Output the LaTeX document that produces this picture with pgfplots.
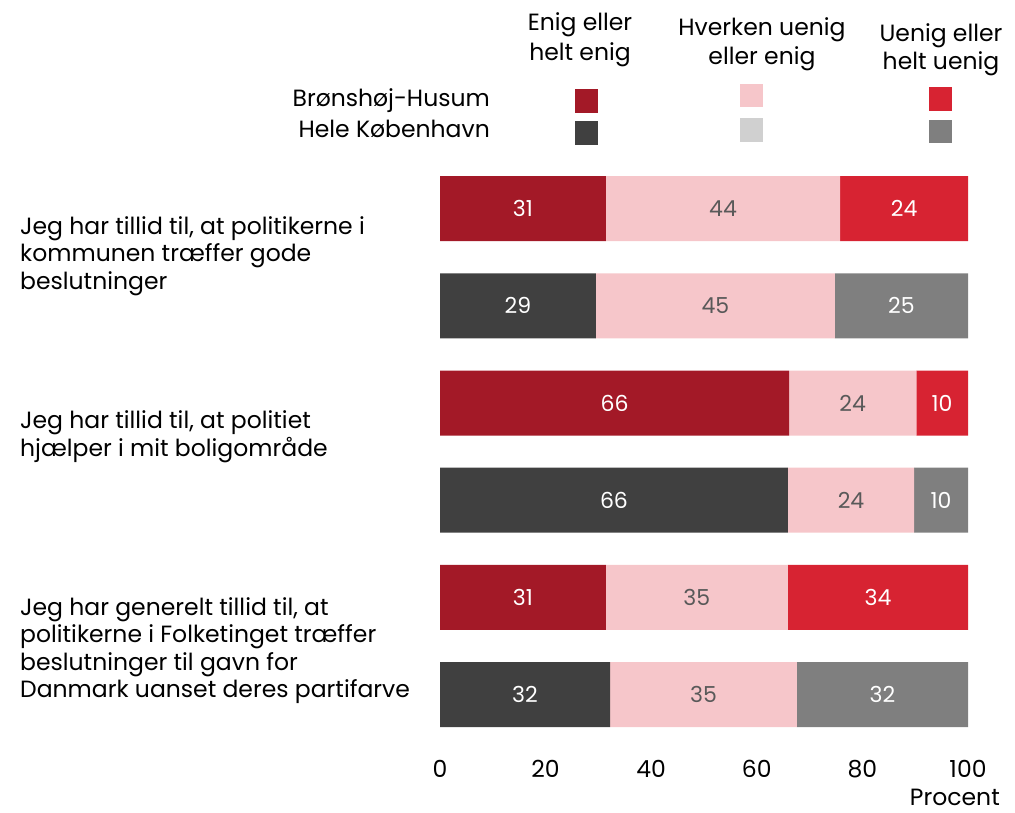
\documentclass[border=0pt]{standalone}
\usepackage{pgfplots}
\pgfplotsset{compat=1.18}
\usepackage{pgfplotstable}
\usepackage{fontspec}
\setmainfont{Poppins}
\definecolor{dred}{HTML}{A31927}
\definecolor{pinkc}{HTML}{F6C6CA}
\definecolor{redc}{HTML}{D72332}
\definecolor{dgrey}{HTML}{404040}
\definecolor{lgrey}{HTML}{D0D0D0}
\definecolor{mgrey}{HTML}{7F7F7F}
\definecolor{labgray}{HTML}{595959}

\pgfplotstableread{
y x lab
0 31.4 31
1 0 0
2 66.1 66
3 0 0
4 31.4 31
5 0 0
}\enigB
\pgfplotstableread{
y x lab
0 0 0
1 29.5 29
2 0 0
3 65.9 66
4 0 0
5 32.2 32
}\enigK
\pgfplotstableread{
y x lab
0 44.4 44
1 45.3 45
2 24.1 24
3 23.9 24
4 34.5 35
5 35.4 35
}\midd
\pgfplotstableread{
y x lab
0 24.2 24
1 0 0
2 9.8 10
3 0 0
4 34.1 34
5 0 0
}\uenigB
\pgfplotstableread{
y x lab
0 0 0
1 25.2 25
2 0 0
3 10.2 10
4 0 0
5 32.4 32
}\uenigK

\newcommand{\fs}{\fontsize{23.5}{28}\selectfont}
\newcommand{\fb}{\fontsize{22}{26}\selectfont}

\begin{document}
\begin{tikzpicture}[x=1pt,y=1pt]
\path[use as bounding box] (0,0) rectangle (1015,-812);
\begin{axis}[
  at={(440pt,-160pt)}, anchor=north west,
  scale only axis, width=528pt, height=583.2pt,
  xbar stacked, bar width=65pt,
  xmin=0, xmax=100, ymin=-0.5, ymax=5.5, y dir=reverse,
  axis line style={draw=none},
  ytick=\empty, xtick={0,20,...,100}, major tick length=0,
  /pgf/number format/assume math mode=true,
  xticklabel style={font=\fs, yshift=-13pt},
  point meta=explicit symbolic,
  nodes near coords={\ifdim\pgfplotspointmeta pt>0pt \pgfplotspointmeta\fi},
  every node near coord/.append style={anchor=center, font=\fb, color=white},
  clip=false,
]
\addplot[fill=dred, draw=none] table[x=x,y=y,meta=lab] {\enigB};
\addplot[fill=dgrey, draw=none] table[x=x,y=y,meta=lab] {\enigK};
\addplot[fill=pinkc, draw=none, every node near coord/.append style={color=labgray}] table[x=x,y=y,meta=lab] {\midd};
\addplot[fill=redc, draw=none] table[x=x,y=y,meta=lab] {\uenigB};
\addplot[fill=mgrey, draw=none] table[x=x,y=y,meta=lab] {\uenigK};
\end{axis}

% x axis title
\node[anchor=base east, font=\fs, inner sep=0] at (1000,-805) {Procent};

% category labels
\begin{scope}[every node/.style={anchor=base west, font=\fs, inner sep=0}]
\node at (20,-234) {Jeg har tillid til, at politikerne i};
\node at (20,-261) {kommunen træffer gode};
\node at (20,-289) {beslutninger};
\node at (20,-428) {Jeg har tillid til, at politiet};
\node at (20,-456) {hjælper i mit boligområde};
\node at (20,-615) {Jeg har generelt tillid til, at};
\node at (20,-642) {politikerne i Folketinget træffer};
\node at (20,-670) {beslutninger til gavn for};
\node at (20,-697) {Danmark uanset deres partifarve};
\end{scope}

% legend
\begin{scope}[every node/.style={anchor=base, font=\fs, inner sep=0}]
\node at (580,-30) {Enig eller};
\node at (580,-60) {helt enig};
\node at (762,-35) {Hverken uenig};
\node at (762,-64) {eller enig};
\node at (941,-41) {Uenig eller};
\node at (941,-69) {helt uenig};
\node[anchor=base east] at (490,-106) {Brønshøj-Husum};
\node[anchor=base east] at (490,-137) {Hele København};
\end{scope}
\fill[dred] (575,-89) rectangle (598,-113);
\fill[dgrey] (575,-121) rectangle (598,-145);
\fill[pinkc] (740,-84) rectangle (763,-107);
\fill[lgrey] (740,-118) rectangle (763,-142);
\fill[redc] (929,-87) rectangle (952,-111);
\fill[mgrey] (929,-120) rectangle (952,-143);
\end{tikzpicture}
\end{document}
